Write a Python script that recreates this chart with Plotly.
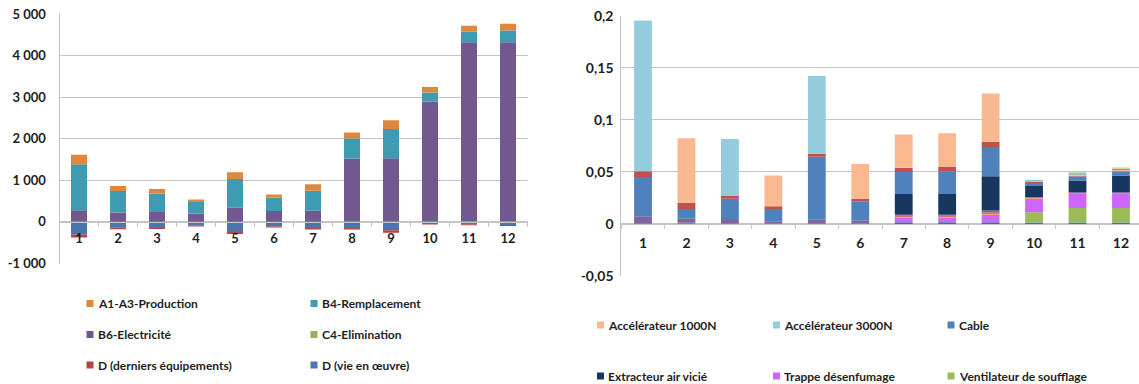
import plotly.graph_objects as go

W, H = 1139, 384

categories = [str(i) for i in range(1, 13)]

# ---------------- Left chart data (stacked, bottom -> top) ----------------
left_names = ["D (vie en œuvre)", "D (derniers équipements)", "C4-Elimination",
              "B6-Electricité", "B4-Remplacement", "A1-A3-Production"]
d_vie = [-300, -140, -145, -90, -242, -105, -145, -145, -200, -48, -56, -73]
d_dern = [-75, -35, -25, -20, -50, -32, -40, -40, -58, -17, -24, -24]
c4_elim = [8, 5, 5, 4, 7, 5, 6, 10, 10, 12, 15, 15]
b6_elec = [275, 220, 236, 198, 332, 260, 260, 1514, 1522, 2883, 4308, 4308]
b4_rempl = [1105, 516, 443, 274, 693, 323, 484, 484, 702, 218, 250, 282]
a1a3_prod = [226, 121, 105, 64, 162, 72, 153, 145, 210, 129, 145, 161]
left_colors = ["#4A76AE", "#B84542", "#93B25A", "#71588F", "#3F9BB2", "#E0873E"]
left_values = [d_vie, d_dern, c4_elim, b6_elec, b4_rempl, a1a3_prod]

left_ticks = [-1000, 0, 1000, 2000, 3000, 4000, 5000]
left_ticktext = ["-1 000", "0", "1 000", "2 000", "3 000", "4 000", "5 000"]

left_legend = ["A1-A3-Production", "B4-Remplacement", "B6-Electricité",
               "C4-Elimination", "D (derniers équipements)", "D (vie en œuvre)"]

# ---------------- Right chart data (stacked, bottom -> top) ----------------
r_bottom_blue = [0, 0, 0, 0, 0, 0, 0.0016, 0.0016, 0.0016, 0.0015, 0.0015, 0.0015]
r_bottom_orange = [0.0010, 0.0012, 0.0008, 0.0008, 0.0010, 0.0008, 0, 0, 0, 0, 0, 0]
ventilateur = [0, 0, 0, 0, 0, 0, 0, 0, 0, 0.0097, 0.0138, 0.0138]
trappe = [0, 0, 0, 0, 0, 0, 0.0045, 0.0045, 0.0073, 0.0131, 0.0134, 0.0134]
r_mid_orange = [0, 0, 0, 0, 0, 0, 0.0008, 0.0008, 0.0010, 0.0005, 0.0005, 0.0005]
r_mid_red = [0, 0, 0, 0, 0, 0, 0.0010, 0.0010, 0.0012, 0.0008, 0.0008, 0.0008]
r_purple = [0.0065, 0.0038, 0.0030, 0.0018, 0.0035, 0.0022, 0.0010, 0.0010, 0.0017, 0.0003, 0.0003, 0.0003]
extracteur = [0, 0, 0, 0, 0, 0, 0.0199, 0.0199, 0.0329, 0.0105, 0.0115, 0.0163]
cable = [0.0375, 0.0094, 0.0205, 0.0118, 0.0600, 0.0187, 0.0210, 0.0218, 0.0281, 0.0030, 0.0038, 0.0032]
r_red = [0.0055, 0.0058, 0.0025, 0.0025, 0.0030, 0.0025, 0.0042, 0.0042, 0.0051, 0.0008, 0.0008, 0.0008]
acc3000 = [0.1450, 0, 0.0547, 0, 0.0747, 0, 0, 0, 0, 0, 0, 0]
acc1000 = [0, 0.0622, 0, 0.0297, 0, 0.0333, 0.0319, 0.0323, 0.0463, 0.0010, 0.0012, 0.0012]
r_top_teal = [0, 0, 0, 0, 0, 0, 0, 0, 0, 0.0008, 0.0010, 0.0012]
r_top_green = [0, 0, 0, 0, 0, 0, 0, 0, 0, 0.0005, 0.0010, 0.0012]

right_series = [
    ("Autres (bas)", r_bottom_blue, "#3E6FA8", False),
    ("Autres (bas 2)", r_bottom_orange, "#E46C0A", False),
    ("Ventilateur de soufflage", ventilateur, "#9BBB59", True),
    ("Trappe désenfumage", trappe, "#CC66FF", True),
    ("Autres (milieu)", r_mid_orange, "#F79646", False),
    ("Autres (milieu 2)", r_mid_red, "#C0504D", False),
    ("Autres (violet)", r_purple, "#8064A2", False),
    ("Extracteur air vicié", extracteur, "#17375E", True),
    ("Cable", cable, "#4F81BD", True),
    ("Autres (rouge)", r_red, "#C0504D", False),
    ("Accélérateur 3000N", acc3000, "#93CDDD", True),
    ("Accélérateur 1000N", acc1000, "#FAB890", True),
    ("Autres (haut)", r_top_teal, "#4BACC6", False),
    ("Autres (haut 2)", r_top_green, "#C3D69B", False),
]
right_legend = ["Accélérateur 1000N", "Accélérateur 3000N", "Cable",
                "Extracteur air vicié", "Trappe désenfumage", "Ventilateur de soufflage"]

right_ticks = [-0.05, 0, 0.05, 0.1, 0.15, 0.2]
right_ticktext = ["-0,05", "0", "0,05", "0,1", "0,15", "0,2"]

FONT = "Lato, Carlito, Calibri, sans-serif"
GRID = "#C4C4C4"
TXT = "#1E1E1E"

fig = go.Figure()

for name, vals, col in zip(left_names, left_values, left_colors):
    fig.add_trace(go.Bar(x=categories, y=vals, name=name, marker_color=col,
                         marker_line_width=0, xaxis="x", yaxis="y", showlegend=False))

right_colors = {}
for name, vals, col, shown in right_series:
    right_colors[name] = col
    fig.add_trace(go.Bar(x=categories, y=vals, name=name, marker_color=col,
                         marker_line_width=0, xaxis="x2", yaxis="y2", showlegend=False))

def py(p):
    return 1 - p / H

def px(p):
    return p / W

left_xdom = [px(59.5), px(527.5)]
left_ydom = [py(263.5), py(14)]
right_xdom = [px(621.3), 1.0]
right_ydom = [py(276), py(15.7)]

left_zero = py(222)
right_zero = py(224.3)

fig.update_layout(
    width=W, height=H,
    margin=dict(l=0, r=0, t=0, b=0),
    paper_bgcolor="white", plot_bgcolor="white",
    barmode="relative", bargap=0.59,
    font=dict(family=FONT, color=TXT),
    showlegend=False,
    xaxis=dict(domain=left_xdom, anchor="free", position=left_zero, type="category",
               range=[-0.5, 11.5], showline=True, linecolor=GRID, linewidth=1,
               ticks="outside", tickson="boundaries", ticklen=4, tickcolor=GRID,
               ticklabelstandoff=4,
               showgrid=False, tickfont=dict(size=13, weight="bold"), automargin=False),
    yaxis=dict(domain=left_ydom, anchor="x", range=[-1000, 5000], tickvals=left_ticks,
               ticktext=left_ticktext, showgrid=True, gridcolor=GRID, gridwidth=1,
               zeroline=False, showline=True, linecolor=GRID, linewidth=1,
               ticks="", ticklabelstandoff=10, tickfont=dict(size=13, weight="bold"),
               automargin=False),
    xaxis2=dict(domain=right_xdom, anchor="free", position=right_zero, type="category",
                range=[-0.5, 11.415], showline=True, linecolor=GRID, linewidth=1,
                ticks="outside", tickson="boundaries", ticklen=4, tickcolor=GRID,
                ticklabelstandoff=6,
                showgrid=False, tickfont=dict(size=14, weight="bold"), automargin=False),
    yaxis2=dict(domain=right_ydom, anchor="x2", range=[-0.05, 0.2], tickvals=right_ticks,
                ticktext=right_ticktext, showgrid=True, gridcolor=GRID, gridwidth=1,
                zeroline=False, showline=True, linecolor=GRID, linewidth=1,
                ticks="", ticklabelstandoff=4, tickfont=dict(size=14, weight="bold"),
                automargin=False),
)

# ---------------- manual legends (swatch + text) ----------------
shapes = []
annotations = []

def add_legend_item(x_marker, y_center, color, label, size=7):
    shapes.append(dict(type="rect", xref="paper", yref="paper",
                       x0=px(x_marker), x1=px(x_marker + size),
                       y0=py(y_center + size / 2), y1=py(y_center - size / 2),
                       fillcolor=color, line=dict(width=0)))
    annotations.append(dict(xref="paper", yref="paper", x=px(x_marker + size + 2),
                            y=py(y_center), xanchor="left", yanchor="middle",
                            text=label, showarrow=False,
                            font=dict(family=FONT, size=12, color=TXT, weight="bold")))

left_color_map = dict(zip(left_names, left_colors))
left_cols_x = [86.5, 310.5]
left_rows_y = [303.5, 334.5, 365]
for i, name in enumerate(left_legend):
    add_legend_item(left_cols_x[i % 2], left_rows_y[i // 2], left_color_map[name], name)

right_cols_x = [597, 773, 947.5]
right_rows_y = [325, 376]
for i, name in enumerate(right_legend):
    add_legend_item(right_cols_x[i % 3], right_rows_y[i // 3], right_colors[name], name)

fig.update_layout(shapes=shapes, annotations=annotations)

fig.write_html("out.html", config={"displayModeBar": False, "staticPlot": True},
               post_script="document.body.style.margin='0';document.body.style.overflow='hidden';")
